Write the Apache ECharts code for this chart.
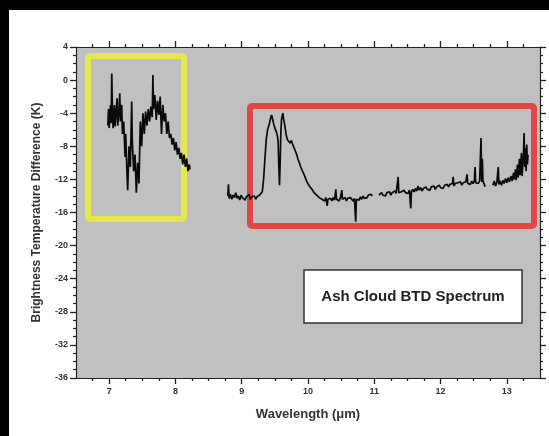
<!DOCTYPE html>
<html>
<head>
<meta charset="utf-8">
<script src="https://cdn.jsdelivr.net/npm/echarts@6/dist/echarts.min.js"></script>
<style>
  html, body { margin: 0; padding: 0; background: #000; }
  #chart { width: 549px; height: 436px; }
</style>
</head>
<body>
<div id="chart"></div>
<script>
// tick labels
const xTicks = [7, 8, 9, 10, 11, 12, 13];
const xMinorTicks = [6.75, 7.25, 7.5, 7.75, 8.25, 8.5, 8.75, 9.25, 9.5, 9.75, 10.25, 10.5, 10.75,
  11.25, 11.5, 11.75, 12.25, 12.5, 12.75, 13.25];
const yTicks = [4, 0, -4, -8, -12, -16, -20, -24, -28, -32, -36];

// spectrum pieces (wavelength um, BTD K)
const wl1 = [6.98, 6.99, 7.00, 7.02, 7.03, 7.04, 7.05, 7.06, 7.08, 7.09, 7.10, 7.12, 7.13, 7.15, 7.16, 7.17, 7.19, 7.20,
  7.22, 7.24, 7.25, 7.27, 7.28, 7.30, 7.32, 7.34, 7.35, 7.37, 7.39, 7.41, 7.43, 7.45, 7.47, 7.49, 7.51, 7.53, 7.55,
  7.57, 7.59, 7.61, 7.63, 7.65, 7.66, 7.67, 7.69, 7.71, 7.73, 7.75, 7.77, 7.79, 7.81, 7.83, 7.85, 7.87, 7.89, 7.91,
  7.93, 7.95, 7.97, 7.99, 8.01, 8.03, 8.05, 8.07, 8.09, 8.11, 8.13, 8.15, 8.17, 8.19, 8.21, 8.22];
const btd1 = [-5.5, -3.5, -5.8, -3.0, -5.2, 0.8, -4.0, -5.8, -3.0, -5.6, -4.5, -2.2, -5.5, -3.5, -1.6, -5.0, -3.0, -6.5,
  -5.0, -9.3, -6.5, -11.5, -13.3, -8.0, -10.5, -2.6, -7.5, -11.0, -9.0, -13.6, -10.0, -12.5, -5.0, -8.0, -4.0, -6.5, -3.8,
  -5.5, -3.5, -5.0, -3.2, -4.5, 0.6, -3.5, -1.8, -4.8, -2.5, -4.2, -2.0, -6.5, -3.0, -5.0, -4.0, -6.5, -5.0, -7.0,
  -6.5, -7.8, -7.0, -8.5, -7.5, -9.0, -8.2, -9.5, -8.8, -10.2, -9.0, -10.5, -9.5, -11.0, -10.2, -10.8];

const wl2 = [8.79, 8.80, 8.81, 8.83, 8.85, 8.87, 8.89, 8.91, 8.93, 8.95, 8.97, 8.99, 9.01, 9.03, 9.05, 9.07, 9.09, 9.11,
  9.13, 9.15, 9.17, 9.19, 9.21, 9.23, 9.25, 9.27, 9.29, 9.31, 9.33, 9.35, 9.37, 9.39, 9.41, 9.43, 9.45, 9.46, 9.48,
  9.50, 9.52, 9.54, 9.55, 9.56, 9.57, 9.58, 9.59, 9.60, 9.62, 9.63, 9.65, 9.67, 9.69, 9.71, 9.73, 9.75, 9.77, 9.79,
  9.81, 9.83, 9.85, 9.87, 9.89, 9.91, 9.93, 9.95, 9.97, 9.99, 10.01, 10.03, 10.05, 10.07, 10.09, 10.11, 10.13, 10.15,
  10.17, 10.19, 10.21, 10.23, 10.25, 10.27, 10.29, 10.30, 10.32, 10.34, 10.36, 10.38, 10.40, 10.42, 10.43, 10.45,
  10.47, 10.49, 10.51, 10.52, 10.54, 10.56, 10.58, 10.60, 10.62, 10.64, 10.66, 10.68, 10.70, 10.72, 10.73, 10.75,
  10.77, 10.79, 10.81, 10.83, 10.85, 10.87, 10.89, 10.91, 10.93, 10.95, 10.97];
const btd2 = [-14.0, -12.6, -14.3, -13.8, -14.4, -13.9, -14.2, -13.6, -14.3, -14.0, -14.5, -13.9, -14.2, -14.0, -14.5, -14.1, -14.3, -13.8,
  -14.4, -14.1, -14.3, -14.0, -14.4, -14.1, -14.2, -13.9, -14.1, -13.5, -12.0, -9.5, -7.2, -6.0, -5.5, -4.8, -4.2, -4.5, -5.2,
  -5.8, -6.2, -6.8, -7.5, -10.5, -12.7, -10.0, -6.5, -4.8, -4.0, -4.6, -5.5, -6.6, -7.2, -7.0, -7.6, -7.3, -7.8, -8.0,
  -8.6, -9.0, -9.6, -10.0, -10.5, -10.9, -11.2, -11.6, -12.0, -12.4, -12.6, -12.9, -13.1, -13.3, -13.6, -13.7, -13.9, -14.0,
  -14.2, -14.1, -14.4, -14.3, -14.6, -14.2, -15.2, -14.4, -14.6, -14.3, -14.6, -14.2, -14.5, -13.2, -14.4, -14.3,
  -14.6, -14.2, -13.3, -14.4, -14.5, -14.2, -14.6, -14.3, -14.5, -14.2, -14.4, -14.6, -14.3, -17.1, -14.4, -14.2,
  -14.5, -14.1, -14.4, -14.0, -14.3, -14.1, -14.2, -13.9, -14.1, -13.8, -14.0];

const wl3 = [11.07, 11.09, 11.11, 11.13, 11.15, 11.17, 11.19, 11.21, 11.23, 11.25, 11.27, 11.29, 11.31, 11.33, 11.35,
  11.36, 11.37, 11.39, 11.41, 11.43, 11.45, 11.47, 11.49, 11.51, 11.53, 11.55, 11.56, 11.58, 11.60, 11.62, 11.64,
  11.66, 11.68, 11.70, 11.72, 11.74, 11.76, 11.78, 11.80, 11.82, 11.84, 11.86, 11.88, 11.90, 11.92, 11.94, 11.96,
  11.98, 12.00, 12.02, 12.04, 12.06, 12.08, 12.10, 12.12, 12.14, 12.16, 12.18, 12.19, 12.20, 12.22, 12.24, 12.26,
  12.28, 12.30, 12.32, 12.34, 12.36, 12.38, 12.40, 12.41, 12.43, 12.45, 12.47, 12.49, 12.51, 12.52, 12.53, 12.55,
  12.57, 12.59, 12.61, 12.62, 12.63, 12.64, 12.66, 12.67];
const btd3 = [-13.9, -14.1, -13.6, -13.9, -13.7, -14.0, -13.6, -13.8, -13.5, -13.9, -13.6, -13.8, -13.4, -13.7, -13.5,
  -11.7, -13.6, -13.8, -13.5, -13.7, -13.3, -13.6, -13.4, -13.7, -13.3, -15.5, -13.5, -13.2, -13.5, -13.1, -13.4,
  -12.8, -13.3, -13.0, -13.4, -13.1, -13.3, -12.9, -13.2, -13.0, -13.3, -12.9, -13.1, -12.8, -13.2, -12.9, -13.1,
  -12.7, -13.0, -12.8, -13.1, -12.7, -12.9, -12.6, -12.9, -12.6, -12.8, -12.5, -11.7, -12.8, -12.5, -12.7, -12.4,
  -12.6, -12.3, -12.7, -12.4, -12.6, -12.3, -11.4, -12.5, -12.3, -12.6, -12.2, -12.5, -12.2, -10.5, -12.4, -12.2,
  -12.5, -12.1, -7.0, -12.3, -9.5, -12.2, -12.6, -12.9];

const wl4 = [12.79, 12.81, 12.83, 12.85, 12.87, 12.88, 12.90, 12.92, 12.94, 12.96, 12.98, 13.00, 13.02, 13.04, 13.06,
  13.08, 13.10, 13.11, 13.13, 13.14, 13.16, 13.17, 13.19, 13.20, 13.22, 13.23, 13.25, 13.26, 13.27, 13.28, 13.29,
  13.30, 13.31, 13.32];
const btd4 = [-12.7, -12.2, -12.8, -12.3, -10.5, -12.6, -12.2, -12.7, -12.1, -12.5, -11.9, -12.4, -11.8, -12.3, -11.6,
  -12.2, -11.2, -12.0, -10.8, -12.1, -10.2, -11.8, -9.5, -11.5, -8.8, -11.6, -9.0, -6.4, -10.5, -8.2, -11.0,
  -7.8, -10.2, -9.0];

const FONT = 'Liberation Sans, Arial, sans-serif';

function pairs(xs, ys) {
  return xs.map((x, i) => [x, ys[i]]);
}

function lineSeries(xs, ys) {
  return {
    type: 'line',
    data: pairs(xs, ys),
    showSymbol: false,
    animation: false,
    lineStyle: { color: '#0a0a0a', width: 1.7 },
    z: 5
  };
}

function xAxisDef(pos, values, len, withLabel) {
  return {
    type: 'value',
    position: pos,
    min: 6.5,
    max: 13.5,
    splitLine: { show: false },
    axisLine: { show: true, onZero: false, lineStyle: { color: '#222', width: 1.2 } },
    axisTick: { show: true, customValues: values, length: len, lineStyle: { color: '#222', width: 1.3 } },
    axisLabel: withLabel ? {
      customValues: xTicks, color: '#333', fontSize: 9, fontWeight: 'bold', fontFamily: FONT, margin: 9
    } : { show: false }
  };
}

function yAxisDef(pos, withLabel) {
  return {
    type: 'value',
    position: pos,
    min: -36,
    max: 4,
    interval: 4,
    splitLine: { show: false },
    axisLine: { show: true, onZero: false, lineStyle: { color: '#222', width: 1.2 } },
    axisTick: { show: true, length: 6, lineStyle: { color: '#222', width: 1.3 } },
    minorTick: { show: true, splitNumber: 4, length: 3, lineStyle: { color: '#222', width: 1.2 } },
    minorSplitLine: { show: false },
    axisLabel: withLabel ? {
      customValues: yTicks, color: '#333', fontSize: 9, fontWeight: 'bold', fontFamily: FONT, margin: 8
    } : { show: false },
    name: withLabel ? 'Brightness Temperature Difference (K)' : '',
    nameLocation: 'middle',
    nameGap: 33,
    nameTextStyle: { color: '#333', fontSize: 12, fontWeight: 'bold', fontFamily: FONT }
  };
}

const chart = echarts.init(document.getElementById('chart'));

const xBottom = xAxisDef('bottom', xTicks, 6, true);
xBottom.name = 'Wavelength (\u03bcm)';
xBottom.nameLocation = 'middle';
xBottom.nameGap = 30;
xBottom.nameTextStyle = { color: '#333', fontSize: 13, fontWeight: 'bold', fontFamily: FONT };

const option = {
  backgroundColor: '#fff',
  animation: false,
  grid: {
    left: 76, top: 47, right: 9, bottom: 58,
    show: true, backgroundColor: '#c0c0c0', borderWidth: 0
  },
  xAxis: [
    xBottom,
    xAxisDef('bottom', xMinorTicks, 3, false),
    xAxisDef('top', xTicks, 6, false),
    xAxisDef('top', xMinorTicks, 3, false)
  ],
  yAxis: [
    yAxisDef('left', true),
    yAxisDef('right', false)
  ],
  graphic: [
    // black frame strips around the white panel
    { type: 'rect', shape: { x: 0, y: 0, width: 9, height: 436 }, style: { fill: '#000' }, silent: true },
    { type: 'rect', shape: { x: 0, y: 0, width: 549, height: 10 }, style: { fill: '#000' }, silent: true },
    // highlight boxes
    { type: 'rect', z: 3, shape: { x: 88, y: 56, width: 96, height: 163, r: 2 },
      style: { fill: 'none', stroke: '#e6e64e', lineWidth: 6 } },
    { type: 'rect', z: 3, shape: { x: 250, y: 106, width: 284, height: 120, r: 2 },
      style: { fill: 'none', stroke: '#e04848', lineWidth: 6 } },
    // caption box
    { type: 'rect', z: 10, shape: { x: 304, y: 270, width: 218, height: 53 },
      style: { fill: '#fff', stroke: '#333', lineWidth: 1.5 } },
    { type: 'text', z: 11, x: 413, y: 297,
      style: { text: 'Ash Cloud BTD Spectrum', fill: '#222', font: 'bold 15px ' + FONT,
        align: 'center', verticalAlign: 'middle' } }
  ],
  series: [
    lineSeries(wl1, btd1),
    lineSeries(wl2, btd2),
    lineSeries(wl3, btd3),
    lineSeries(wl4, btd4)
  ]
};

chart.setOption(option);
</script>
</body>
</html>
